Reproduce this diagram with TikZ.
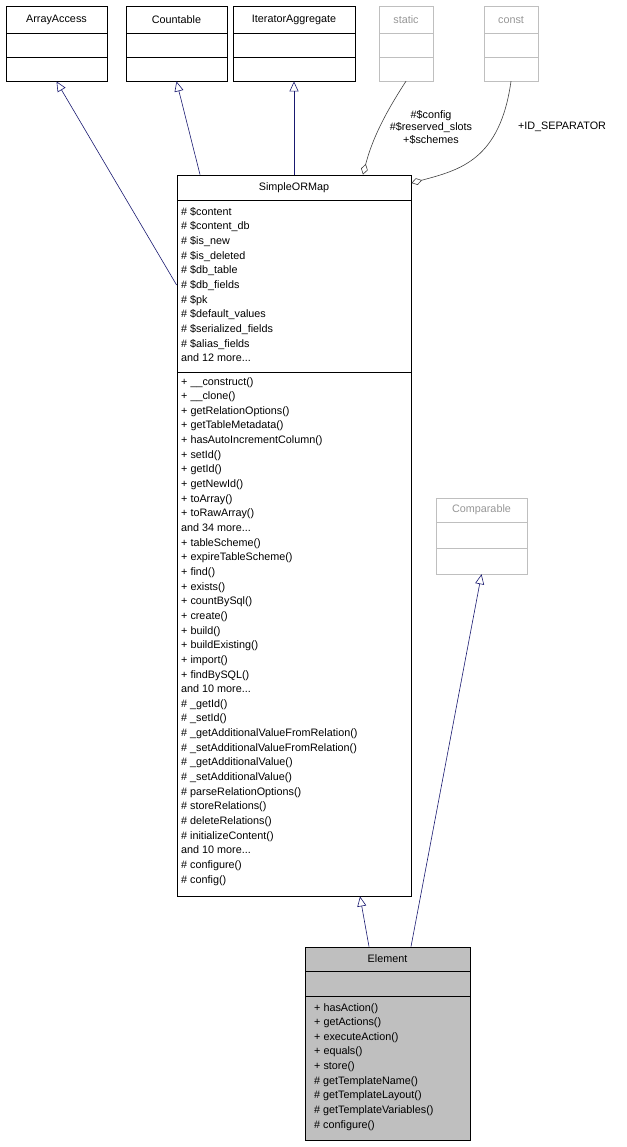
\documentclass[tikz,border=0pt]{standalone}
\usepackage{fontspec}
\setmainfont{Liberation Sans}
\usetikzlibrary{arrows.meta}

\definecolor{edgeblue}{RGB}{25,25,112}
\definecolor{boxgray}{RGB}{191,191,191}
\definecolor{paleline}{RGB}{191,191,191}
\definecolor{paletext}{RGB}{150,150,150}
\definecolor{usedark}{RGB}{64,64,64}

\tikzset{
  classbox/.style={draw, thick, inner sep=0pt},
  palebox/.style={draw=paleline, inner sep=0pt},
  classname/.style={font=\fontsize{10.8}{12}\selectfont},
  members/.style={anchor=north west, inner sep=0pt, align=left,
    font=\fontsize{10.8}{14.65}\selectfont},
  inherit/.style={edgeblue, semithick, -{Triangle[open,length=10pt,width=9pt]}},
  usage/.style={usedark, semithick, -{Diamond[open,length=11pt,width=7pt]}},
  rolelabel/.style={align=center, inner sep=0pt, font=\fontsize{10.8}{12.5}\selectfont}
}

\begin{document}
\begin{tikzpicture}[x=1pt, y=-1pt]
  \useasboundingbox (0,0) rectangle (626,1147);

  % Interfaces at the top
  \foreach \name/\xl/\xr in {ArrayAccess/6/107, Countable/126/227, IteratorAggregate/233/355} {
    \node[classbox, minimum width={(\xr-\xl)*1pt}, minimum height=75pt]
      (\name) at ({(\xl+\xr)/2}, 43.5) {};
    \node[classname] at ({(\xl+\xr)/2}, 20) {\name};
    \draw[thick] (\xl,33) -- (\xr,33);
    \draw[thick] (\xl,57) -- (\xr,57);
  }

  % static and const
  \foreach \name/\xl/\xr in {static/379/433, const/484/538} {
    \node[palebox, minimum width={(\xr-\xl)*1pt}, minimum height=75pt]
      (\name) at ({(\xl+\xr)/2}, 43.5) {};
    \node[classname, text=paletext] at ({(\xl+\xr)/2}, 20) {\name};
    \draw[paleline] (\xl,33) -- (\xr,33);
    \draw[paleline] (\xl,57) -- (\xr,57);
  }

  % SimpleORMap
  \node[classbox, minimum width=234pt, minimum height=721pt] (orm) at (294,535.5) {};
  \node[classname] at (294,188) {SimpleORMap};
  \draw[thick] (177,200) -- (411,200);
  \draw[thick] (177,372) -- (411,372);
  \node[members] (ormattr) at (181,207) {\# \$content\\\# \$content\_db\\\# \$is\_new\\\# \$is\_deleted\\
    \# \$db\_table\\\# \$db\_fields\\\# \$pk\\\# \$default\_values\\\# \$serialized\_fields\\
    \# \$alias\_fields\\and 12 more...};
  \node[members] (ormops) at (181,377) {+ \_\_construct()\\+ \_\_clone()\\+ getRelationOptions()\\
    + getTableMetadata()\\+ hasAutoIncrementColumn()\\+ setId()\\+ getId()\\+ getNewId()\\
    + toArray()\\+ toRawArray()\\and 34 more...\\+ tableScheme()\\+ expireTableScheme()\\
    + find()\\+ exists()\\+ countBySql()\\+ create()\\+ build()\\+ buildExisting()\\+ import()\\
    + findBySQL()\\and 10 more...\\\# \_getId()\\\# \_setId()\\\# \_getAdditionalValueFromRelation()\\
    \# \_setAdditionalValueFromRelation()\\\# \_getAdditionalValue()\\\# \_setAdditionalValue()\\
    \# parseRelationOptions()\\\# storeRelations()\\\# deleteRelations()\\\# initializeContent()\\
    and 10 more...\\\# configure()\\\# config()};

  % Comparable
  \node[palebox, minimum width=91pt, minimum height=76pt] (comparable) at (481.5,536) {};
  \node[classname, text=paletext] at (481.5,510) {Comparable};
  \draw[paleline] (436,522) -- (527,522);
  \draw[paleline] (436,548) -- (527,548);

  % Element
  \node[classbox, fill=boxgray, minimum width=165pt, minimum height=193pt] (element) at (387.5,1043.5) {};
  \node[classname] at (387.5,959) {Element};
  \draw[thick] (305,971) -- (470,971);
  \draw[thick] (305,996) -- (470,996);
  \node[members] (elemops) at (314,1003) {+ hasAction()\\+ getActions()\\+ executeAction()\\
    + equals()\\+ store()\\\# getTemplateName()\\\# getTemplateLayout()\\
    \# getTemplateVariables()\\\# configure()};

  % Inheritance
  \draw[inherit] (orm.west |- 0,285) -- (ArrayAccess.south);
  \draw[inherit] (orm.north -| 200,0) -- (Countable.south);
  \draw[inherit] (orm.north -| 294,0) -- (IteratorAggregate.south);
  \draw[inherit] (element.north -| 369,0) -- (orm.south -| 360,0);
  \draw[inherit] (element.north -| 411,0) -- (comparable.south);

  % Usage
  \draw[usage] (static.south) .. controls (384,115) and (372,140) .. (orm.north -| 363,0);
  \draw[usage] (const.south) .. controls (500,160) and (460,170) .. (orm.north east |- 0,183);
  \node[rolelabel] (staticrole) at (431,127) {\#\$config\\\#\$reserved\_slots\\+\$schemes};
  \node[rolelabel] (constrole) at (562,127) {+ID\_SEPARATOR};
\end{tikzpicture}
\end{document}
